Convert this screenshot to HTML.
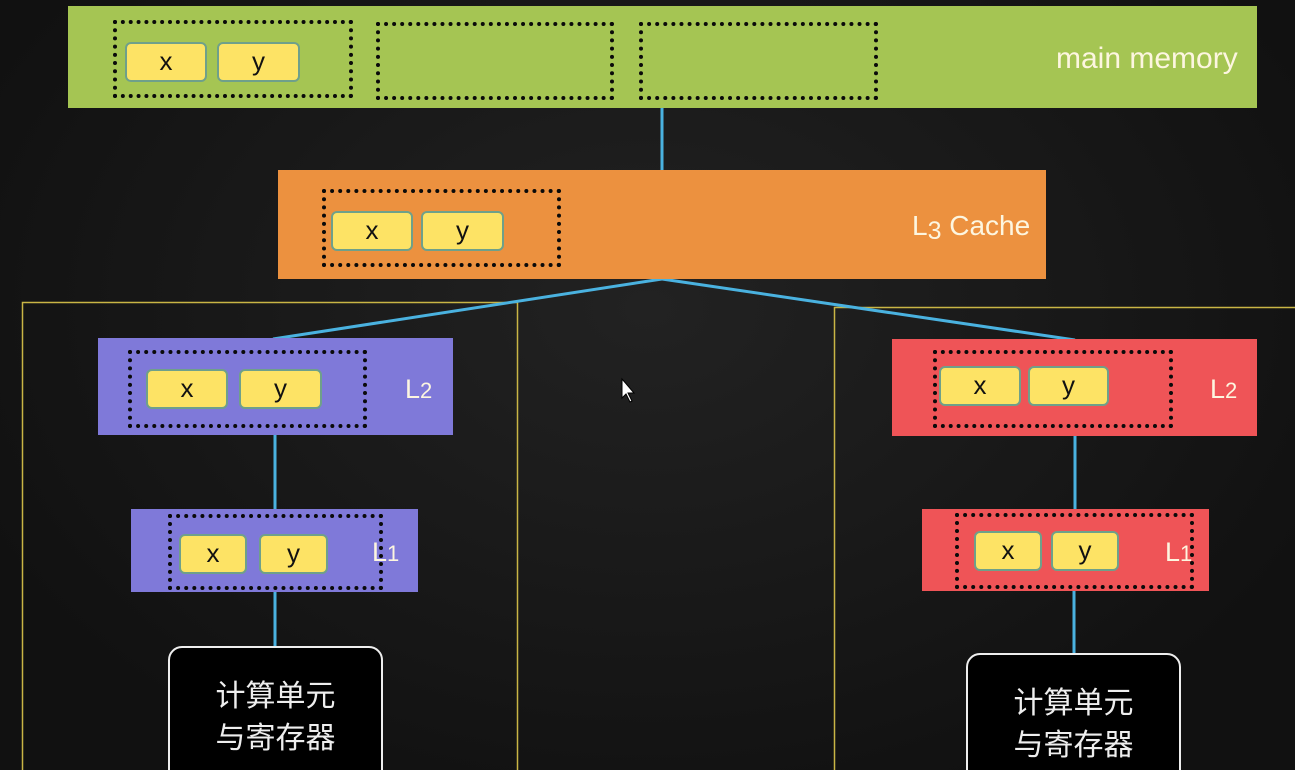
<!DOCTYPE html>
<html><head><meta charset="utf-8"><style>
html,body{margin:0;padding:0;width:1295px;height:770px;overflow:hidden}
body{position:relative;background:#141414;font-family:"Liberation Sans","Noto Sans CJK SC",sans-serif}
.a{position:absolute;box-sizing:border-box}
.d{position:absolute;box-sizing:border-box;border:4px dotted #0a0a0a}
.c{position:absolute;box-sizing:border-box;background:#fde365;border:2px solid #6fa08a;border-radius:6px;color:#111;font-size:26px;text-align:center;line-height:34px}
.t{position:absolute;color:#fdf6e0;font-size:27px;white-space:nowrap;line-height:1}
.cu{position:absolute;box-sizing:border-box;background:#000;border:2px solid #eee;border-radius:14px;color:#eee;font-family:"Noto Sans CJK SC",sans-serif;font-size:30px;line-height:42px;text-align:center}
</style></head><body>
<div class="a" style="left:0;top:0;width:1295px;height:770px;background:radial-gradient(ellipse at 50% 40%,#222 0%,#111 80%)"></div>
<svg class="a" style="left:0;top:0" width="1295" height="770">
<rect x="22.5" y="302.5" width="495" height="480" fill="none" stroke="#c9b545" stroke-width="1.5"/>
<rect x="834.5" y="307.5" width="470" height="480" fill="none" stroke="#c9b545" stroke-width="1.5"/>
<g stroke="#4ab2e0" stroke-width="3" fill="none">
<line x1="662" y1="108" x2="662" y2="170"/>
<line x1="662" y1="279" x2="273" y2="339"/>
<line x1="662" y1="279" x2="1075" y2="340"/>
<line x1="275" y1="434" x2="275" y2="509"/>
<line x1="275" y1="591" x2="275" y2="646"/>
<line x1="1075" y1="435" x2="1075" y2="510"/>
<line x1="1074" y1="590" x2="1074" y2="653"/>
</g>
<path d="M622 379 L622 398 L626 394 L630 402 L632 401 L628 393 L634 393 Z" fill="#fff" stroke="#000" stroke-width="1"/>
</svg>

<div class="a" style="left:68px;top:6px;width:1189px;height:102px;background:#a5c553"></div>
<div class="d" style="left:113px;top:20px;width:240px;height:78px"></div>
<div class="d" style="left:376px;top:22px;width:238px;height:78px"></div>
<div class="d" style="left:639px;top:22px;width:239px;height:78px"></div>
<div class="c" style="left:125px;top:42px;width:82px;height:40px">x</div>
<div class="c" style="left:217px;top:42px;width:83px;height:40px">y</div>
<div class="t" style="left:1056px;top:44px;font-size:30px">main memory</div>

<div class="a" style="left:278px;top:170px;width:768px;height:109px;background:#ec913f"></div>
<div class="d" style="left:322px;top:189px;width:239px;height:78px"></div>
<div class="c" style="left:331px;top:211px;width:82px;height:40px">x</div>
<div class="c" style="left:421px;top:211px;width:83px;height:40px">y</div>
<div class="t" style="left:912px;top:212px;font-size:28px">L<span style="font-size:25px;position:relative;top:4px">3</span> Cache</div>

<div class="a" style="left:98px;top:338px;width:355px;height:97px;background:#7f79d9"></div>
<div class="d" style="left:128px;top:350px;width:239px;height:78px"></div>
<div class="c" style="left:146px;top:369px;width:82px;height:40px">x</div>
<div class="c" style="left:239px;top:369px;width:83px;height:40px">y</div>
<div class="t" style="left:405px;top:376px">L<span style="font-size:22px">2</span></div>
<div class="a" style="left:131px;top:509px;width:287px;height:83px;background:#7f79d9"></div>
<div class="d" style="left:168px;top:514px;width:215px;height:76px"></div>
<div class="c" style="left:179px;top:534px;width:68px;height:40px">x</div>
<div class="c" style="left:259px;top:534px;width:69px;height:40px">y</div>
<div class="t" style="left:372px;top:539px">L<span style="font-size:22px">1</span></div>
<div class="cu" style="left:168px;top:646px;width:215px;height:140px;padding-top:24px">计算单元<br>与寄存器</div>

<div class="a" style="left:892px;top:339px;width:365px;height:97px;background:#ef5457"></div>
<div class="d" style="left:933px;top:350px;width:240px;height:78px"></div>
<div class="c" style="left:939px;top:366px;width:82px;height:40px">x</div>
<div class="c" style="left:1028px;top:366px;width:81px;height:40px">y</div>
<div class="t" style="left:1210px;top:376px">L<span style="font-size:22px">2</span></div>
<div class="a" style="left:922px;top:509px;width:287px;height:82px;background:#ef5457"></div>
<div class="d" style="left:955px;top:513px;width:239px;height:76px"></div>
<div class="c" style="left:974px;top:531px;width:68px;height:40px">x</div>
<div class="c" style="left:1051px;top:531px;width:68px;height:40px">y</div>
<div class="t" style="left:1165px;top:539px">L<span style="font-size:22px">1</span></div>
<div class="cu" style="left:966px;top:653px;width:215px;height:140px;padding-top:24px">计算单元<br>与寄存器</div>
</body></html>
